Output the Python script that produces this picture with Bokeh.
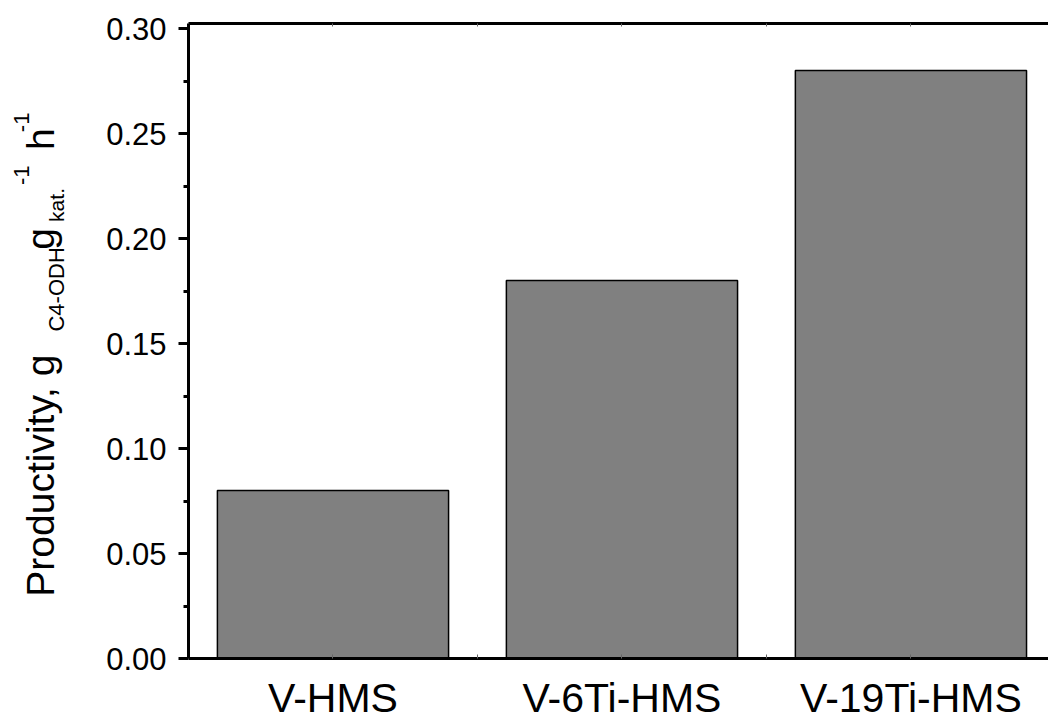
from bokeh.plotting import figure
from bokeh.layouts import row
from bokeh.models import (FixedTicker, LinearAxis, Range1d, ColumnDataSource,
                          CustomJSTickFormatter)
from bokeh.core.properties import value
from bokeh.embed import file_html
from bokeh.resources import INLINE
import math

categories = ["V-HMS", "V-6Ti-HMS", "V-19Ti-HMS"]
productivity = [0.08, 0.18, 0.28]
positions = [1, 2, 3]
y_ticks = [0.00, 0.05, 0.10, 0.15, 0.20, 0.25, 0.30]
y_minor = [0.025, 0.075, 0.125, 0.175, 0.225, 0.275]

FONT = "Liberation Sans"
W, H = 1048, 723
TITLE_W = 80
TOP, BOTTOM = 23, 63

# ---------- main plot ----------
src = ColumnDataSource(dict(x=positions, top=productivity, name=categories))

p = figure(width=W - TITLE_W, height=H, output_backend="svg", toolbar_location=None,
           x_range=Range1d(0.5, 3.476), y_range=Range1d(0, 0.3024),
           min_border_left=188 - TITLE_W, min_border_right=0, min_border_top=TOP,
           min_border_bottom=BOTTOM, x_axis_location=None, y_axis_location=None)
p.outline_line_color = None
p.grid.visible = False

p.vbar(x="x", top="top", width=0.8, source=src, fill_color="#808080",
       line_color="black", line_width=1.5)

ya = LinearAxis(ticker=FixedTicker(ticks=y_ticks, minor_ticks=y_minor))
ya.formatter = CustomJSTickFormatter(code="return tick.toFixed(2)")
ya.axis_line_width = 3
ya.major_tick_line_width = 3
ya.minor_tick_line_width = 3
ya.major_tick_out = 10
ya.major_tick_in = 0
ya.minor_tick_out = 5
ya.minor_tick_in = 0
ya.major_label_text_font = FONT
ya.major_label_text_font_size = "31px"
ya.major_label_text_color = "black"
ya.major_label_standoff = 12
p.add_layout(ya, "left")

xa = LinearAxis(ticker=FixedTicker(ticks=positions, minor_ticks=[1.5, 2.5, 3.5]))
xa.major_label_overrides = {pos: c for pos, c in zip(positions, categories)}
xa.axis_line_width = 3
xa.major_tick_in = 4
xa.major_tick_out = 0
xa.minor_tick_in = 4
xa.minor_tick_out = 0
xa.major_tick_line_width = 1
xa.minor_tick_line_width = 1
xa.major_tick_line_color = "#666666"
xa.minor_tick_line_color = "#666666"
xa.major_label_text_font = FONT
xa.major_label_text_font_size = "41px"
xa.major_label_text_color = "black"
xa.major_label_standoff = 16
p.add_layout(xa, "below")

ta = LinearAxis(ticker=FixedTicker(ticks=positions, minor_ticks=[1.5, 2.5, 3.5]))
ta.axis_line_width = 3
ta.major_tick_in = 3
ta.major_tick_out = 0
ta.minor_tick_in = 3
ta.minor_tick_out = 0
ta.major_tick_line_width = 1
ta.minor_tick_line_width = 1
ta.major_tick_line_color = "#666666"
ta.minor_tick_line_color = "#666666"
ta.major_label_text_font_size = "0px"
ta.major_label_text_color = None
p.add_layout(ta, "above")

# ---------- y-axis title panel (rich text built from pieces) ----------
# frame of this panel is aligned with the main frame (page y TOP .. H-BOTTOM);
# its data units are page pixels measured from the bottom of the page
t = figure(width=TITLE_W, height=H, output_backend="svg", toolbar_location=None,
           x_range=Range1d(0, TITLE_W), y_range=Range1d(BOTTOM, H - TOP),
           min_border_left=0, min_border_right=0, min_border_top=TOP,
           min_border_bottom=BOTTOM, x_axis_location=None, y_axis_location=None)
t.outline_line_color = None
t.grid.visible = False

title_text = ["Productivity, g", "C4-ODH", "g", "kat.", "-1", "h", "-1"]
title_size = ["39px", "22px", "39px", "21px", "22px", "39px", "22px"]
title_px = [40, 56, 40, 56, 21, 40, 21]          # anchor position (px from left)
title_py = [598, 332, 250, 222, 185, 150, 132]   # start of each piece (px from top)

for txt, fs, px, py in zip(title_text, title_size, title_px, title_py):
    t.text(x=[px], y=[H - py], text=[txt], angle=math.pi / 2,
           text_font=value(FONT), text_font_size=value(fs),
           text_color="black", text_align="left", text_baseline="alphabetic")

layout = row(t, p)
open("out.html", "w").write(file_html(layout, INLINE))
